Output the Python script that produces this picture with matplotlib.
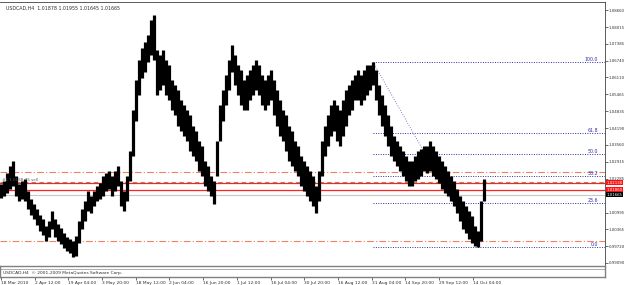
import numpy as np
import matplotlib.pyplot as plt

# --- data (USDCAD H4, high/low per ~3px column) ---
highs = [1.0209, 1.0220, 1.0251, 1.0277, 1.0296, 1.0239, 1.0209, 1.0220, 1.0228, 1.0182,
         1.0152, 1.0133, 1.0114, 1.0091, 1.0076, 1.0049, 1.0068, 1.0106, 1.0076, 1.0057,
         1.0042, 1.0023, 1.0008, 1.0000, 0.9992, 1.0011, 1.0068, 1.0114, 1.0144, 1.0182,
         1.0163, 1.0182, 1.0201, 1.0213, 1.0239, 1.0251, 1.0258, 1.0239, 1.0258, 1.0277,
         1.0220, 1.0182, 1.0239, 1.0334, 1.0486, 1.0600, 1.0676, 1.0722, 1.0744, 1.0771,
         1.0828, 1.0847, 1.0714, 1.0695, 1.0714, 1.0676, 1.0657, 1.0600, 1.0581, 1.0562,
         1.0524, 1.0505, 1.0486, 1.0467, 1.0429, 1.0410, 1.0372, 1.0353, 1.0296, 1.0277,
         1.0239, 1.0220, 1.0372, 1.0505, 1.0562, 1.0619, 1.0676, 1.0733, 1.0695, 1.0657,
         1.0638, 1.0600, 1.0619, 1.0638, 1.0657, 1.0676, 1.0657, 1.0619, 1.0600, 1.0619,
         1.0638, 1.0600, 1.0562, 1.0524, 1.0486, 1.0467, 1.0429, 1.0410, 1.0372, 1.0353,
         1.0315, 1.0296, 1.0277, 1.0258, 1.0239, 1.0201, 1.0258, 1.0372, 1.0429, 1.0467,
         1.0505, 1.0524, 1.0505, 1.0486, 1.0524, 1.0562, 1.0581, 1.0600, 1.0619, 1.0638,
         1.0619, 1.0638, 1.0657, 1.0657, 1.0669, 1.0638, 1.0581, 1.0543, 1.0505, 1.0467,
         1.0429, 1.0391, 1.0372, 1.0353, 1.0334, 1.0315, 1.0296, 1.0296, 1.0315, 1.0334,
         1.0342, 1.0353, 1.0353, 1.0372, 1.0353, 1.0334, 1.0315, 1.0296, 1.0277, 1.0258,
         1.0239, 1.0220, 1.0190, 1.0163, 1.0144, 1.0125, 1.0106, 1.0087, 1.0049, 1.0030,
         1.0144, 1.0228]
lows = [1.0156, 1.0163, 1.0175, 1.0190, 1.0201, 1.0163, 1.0144, 1.0152, 1.0144, 1.0114,
        1.0091, 1.0076, 1.0053, 1.0030, 1.0015, 0.9992, 1.0008, 1.0038, 1.0008, 0.9992,
        0.9981, 0.9966, 0.9954, 0.9947, 0.9932, 0.9936, 0.9985, 1.0038, 1.0068, 1.0106,
        1.0099, 1.0125, 1.0144, 1.0152, 1.0163, 1.0182, 1.0190, 1.0163, 1.0182, 1.0201,
        1.0125, 1.0106, 1.0144, 1.0220, 1.0315, 1.0448, 1.0543, 1.0608, 1.0630, 1.0669,
        1.0695, 1.0676, 1.0543, 1.0562, 1.0581, 1.0543, 1.0524, 1.0486, 1.0467, 1.0429,
        1.0410, 1.0391, 1.0372, 1.0334, 1.0315, 1.0296, 1.0258, 1.0239, 1.0201, 1.0182,
        1.0163, 1.0133, 1.0239, 1.0372, 1.0448, 1.0505, 1.0562, 1.0630, 1.0581, 1.0543,
        1.0505, 1.0486, 1.0486, 1.0524, 1.0543, 1.0562, 1.0543, 1.0505, 1.0486, 1.0505,
        1.0524, 1.0467, 1.0429, 1.0391, 1.0372, 1.0334, 1.0296, 1.0277, 1.0258, 1.0239,
        1.0201, 1.0182, 1.0163, 1.0144, 1.0125, 1.0099, 1.0144, 1.0239, 1.0315, 1.0353,
        1.0391, 1.0410, 1.0372, 1.0353, 1.0391, 1.0429, 1.0467, 1.0486, 1.0524, 1.0524,
        1.0505, 1.0524, 1.0543, 1.0562, 1.0581, 1.0524, 1.0467, 1.0429, 1.0391, 1.0353,
        1.0315, 1.0296, 1.0277, 1.0258, 1.0239, 1.0220, 1.0201, 1.0201, 1.0220, 1.0228,
        1.0239, 1.0258, 1.0251, 1.0258, 1.0239, 1.0228, 1.0213, 1.0190, 1.0175, 1.0163,
        1.0144, 1.0125, 1.0099, 1.0068, 1.0038, 1.0023, 1.0000, 0.9985, 0.9973, 0.9970,
        0.9992, 1.0144]

price_ticks = [1.08660, 1.08015, 1.07385, 1.06740, 1.06110, 1.05465, 1.04835, 1.04190,
               1.03560, 1.02915, 1.02285, 1.00995, 1.00365, 0.99720, 0.99090]
date_labels = ['18 Mar 2010', '2 Apr 12:00', '19 Apr 04:00', '3 May 20:00', '18 May 12:00',
               '2 Jun 04:00', '16 Jun 20:00', '1 Jul 12:00', '16 Jul 04:00', '30 Jul 20:00',
               '16 Aug 12:00', '31 Aug 04:00', '14 Sep 20:00', '29 Sep 12:00', '14 Oct 04:00']
fib_levels = [0.0, 23.6, 38.2, 50.0, 61.8, 100.0]
orange_levels = [1.0255, 0.9992]
sell_level = 1.0217
red_levels = [1.0213, 1.0186]
red_labels = ['1.02130', '1.01860']
bid = 1.01665
title_txt = 'USDCAD,H4  1.01878 1.01955 1.01645 1.01665'

# --- figure ---
W, H = 625, 285
fig = plt.figure(figsize=(W / 100, H / 100), dpi=100)
fig.patch.set_facecolor('white')

def box(x0, y0, x1, y1):
    # pixel coords (top-left origin) -> figure fraction rect
    return [x0 / W, 1 - y1 / H, (x1 - x0) / W, (y1 - y0) / H]

XL = (-1 / 3, 604 / 3)
ax = fig.add_axes(box(0, 2, 605, 265))
n = len(highs)
x = np.arange(n)
ax.set_xlim(*XL)
ax.set_ylim(0.99013, 1.08964)

ax.vlines(x, lows, highs, color='black', lw=2.3, zorder=5)

# fibo
seg = np.arange(100, n)
hi_idx = seg[np.argmax(np.array(highs)[seg])]
lo_idx = hi_idx + np.argmin(np.array(lows)[hi_idx:])
f_hi, f_lo = highs[hi_idx], lows[lo_idx]
fib_col = '#3030a0'
for lv in fib_levels:
    p = f_lo + (f_hi - f_lo) * lv / 100
    ax.plot([hi_idx, XL[1]], [p, p], color=fib_col, lw=0.7, ls=(0, (1, 1.5)), zorder=3)
    ax.text(199, p, f'{lv:.1f}', color=fib_col, fontsize=3.4, ha='right', va='bottom', zorder=6)
ax.plot([hi_idx, lo_idx], [f_hi, f_lo], color=fib_col, lw=0.6, ls=(0, (1, 2)), alpha=0.8, zorder=3)

for p in orange_levels:
    ax.axhline(p, color='#f08060', lw=0.8, ls=(0, (6, 2, 1, 2)), zorder=2)
ax.axhline(sell_level, color='#80a070', lw=0.8, ls=(0, (4, 3)), zorder=2)
ax.text(0.5, sell_level + 0.0004, '#1 1.0188 75 sell', fontsize=3.0, color='#606060', zorder=6)
for p in red_levels:
    ax.axhline(p, color='#ff2020', lw=0.9, zorder=4)
ax.axhline(bid, color='#c8c8c8', lw=0.8, zorder=1)

ax.text(0.01, 0.985, title_txt, transform=ax.transAxes, fontsize=3.4, color='#303030',
        va='top', ha='left')

ax.set_xticks([])
ax.yaxis.tick_right()
ax.set_yticks(price_ticks)
ax.set_yticklabels([f'{t:.5f}' for t in price_ticks])
ax.tick_params(axis='y', length=2, width=0.5, labelsize=2.8, pad=0.8, colors='#303030')
for s in ['left', 'bottom']:
    ax.spines[s].set_visible(False)
for s in ['top', 'right']:
    ax.spines[s].set_linewidth(0.6)
    ax.spines[s].set_color('#404040')

# price markers on right axis
ytr = ax.get_yaxis_transform()
for p, lab in zip(red_levels, red_labels):
    ax.text(1.002, p, lab, transform=ytr, fontsize=2.8, color='white', va='center', ha='left',
            bbox=dict(boxstyle='square,pad=0.15', fc='#ff1010', ec='none'))
ax.text(1.002, bid, f'{bid:.5f}', transform=ytr, fontsize=2.8, color='white', va='center', ha='left',
        bbox=dict(boxstyle='square,pad=0.15', fc='black', ec='none'))

# bottom strip with copyright text
ax2 = fig.add_axes(box(0, 266, 605, 277))
ax2.set_xlim(*XL)
ax2.set_ylim(0, 1)
ax2.set_yticks([])
for s in ax2.spines.values():
    s.set_color('#808080')
    s.set_linewidth(1.0)
ax2.axhline(0.75, color='#a0a0a0', lw=0.6)
ax2.text(0.005, 0.4, 'USDCAD,H4  \u00a9 2001-2009 MetaQuotes Software Corp.', transform=ax2.transAxes,
         fontsize=3.2, color='#303030', va='center')
pos = [11.23 * i for i in range(len(date_labels))]
ax2.set_xticks(pos)
ax2.set_xticklabels(date_labels, ha='left')
ax2.tick_params(axis='x', length=2, width=0.5, labelsize=3.2, pad=1, colors='#303030')

fig.savefig('out.png', dpi=100, facecolor='white')
